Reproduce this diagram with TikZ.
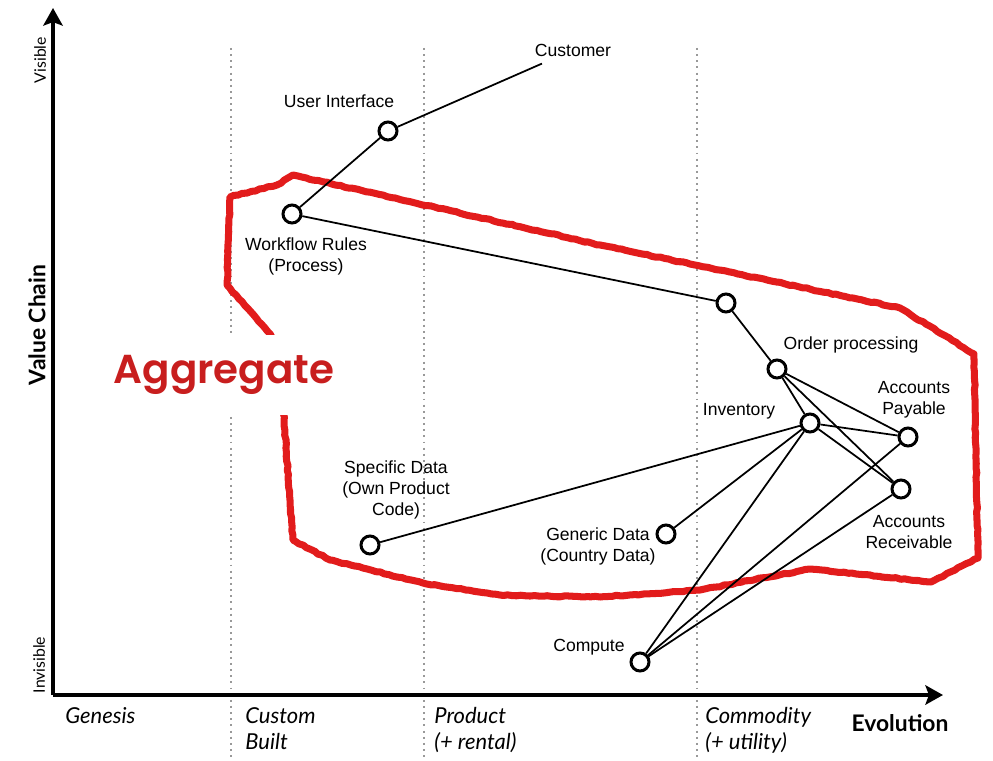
\documentclass[tikz,border=0pt]{standalone}
\usepackage{fontspec}
\setmainfont{Liberation Sans}
\newfontfamily\phasefont{Lato}
\newfontfamily\aggfont{Poppins SemiBold}
\usepackage{xcolor}
\usepackage{tikz}
\usetikzlibrary{arrows.meta,positioning,decorations.pathmorphing}

\definecolor{crayon}{RGB}{226,28,28}
\definecolor{aggred}{RGB}{200,30,30}

\begin{document}
\begin{tikzpicture}[
x=0.02cm, y=-0.02cm,
comp/.style={circle, draw, line width=1.7pt, fill=white, minimum size=0.36cm, inner sep=0pt},
lbl/.style={font=\fontsize{10}{12}\selectfont, align=center, inner sep=1pt},
link/.style={line width=1pt},
axis/.style={line width=2.8pt, -{Stealth[length=10pt, width=11pt, inset=2pt]}},
stage/.style={gray!80, line width=1.1pt, dash pattern=on 1.1pt off 2.4pt},
phase/.style={font=\phasefont\itshape\fontsize{12.5}{14.8}\selectfont, align=left, anchor=north west, inner sep=0pt},
boundary/.style={crayon, line width=4pt, line join=round,
  decorate, decoration={random steps, segment length=2.5pt, amplitude=0.35pt}}
]
\useasboundingbox (0,0) rectangle (993,760);

% Evolution stages
\foreach \x in {231,424,697}
  \draw[stage] (\x,48) -- (\x,760);

% Axes
\coordinate (origin) at (53,695);
\coordinate (vtop) at (53,8);
\coordinate (hend) at (943,695);
\draw[axis] (origin) -- (vtop);
\draw[axis] (origin) -- (hend);

\node[font=\phasefont\fontsize{9}{9}\selectfont, rotate=90] (visible) at (40,60) {Visible};
\node[font=\phasefont\fontsize{9}{9}\selectfont, rotate=90] (invisible) at (39,665) {Invisible};
\node[font=\phasefont\bfseries\fontsize{13}{13}\selectfont, rotate=90] (vchain) at (37,325) {Value Chain};
\node[font=\phasefont\bfseries\fontsize{13}{13}\selectfont] (evol) at (900,723) {Evolution};

\node[phase] (genesis) at (65,707) {Genesis};
\node[phase] (custom) at (245,707) {Custom\\Built};
\node[phase] (product) at (434,707) {Product\\(+ rental)};
\node[phase] (commodity) at (705,707) {Commodity\\(+ utility)};

% Aggregate boundary
\draw[boundary] (230,197) -- (277,185) -- (293,175) -- (600,245) -- (900,308)
  -- (974,354) -- (978,558) -- (931,582) -- (810,569) -- (700,590) -- (600,597)
  -- (500,595) -- (423,583) -- (330,560) -- (293,540) -- (283,405) -- (278,345)
  -- (265,328) -- (227,285) -- cycle;
\node[fill=white, text=aggred, font=\aggfont\fontsize{23}{23}\selectfont,
  minimum width=4.5cm, minimum height=1.6cm] (aggregate) at (224,375) {Aggregate};

% Components
\node[lbl, inner sep=4pt] (customer) at (573,50) {Customer};
\node[comp] (ui) at (388,131) {};
\node[comp] (workflow) at (292,214) {};
\node[comp] (hub) at (726,303) {};
\node[comp] (order) at (777,369) {};
\node[comp] (inventory) at (810,423) {};
\node[comp] (payable) at (908,437) {};
\node[comp] (receivable) at (901,489) {};
\node[comp] (specific) at (370,545) {};
\node[comp] (generic) at (666,534) {};
\node[comp] (compute) at (640,662) {};

% Labels
\node[lbl] at (339,101) {User Interface};
\node[lbl] at (306,256) {Workflow Rules\\(Process)};
\node[lbl] at (851,345) {Order processing};
\node[lbl] at (739,411) {Inventory};
\node[lbl] at (914,400) {Accounts\\Payable};
\node[lbl] at (909,532) {Accounts\\Receivable};
\node[lbl] at (396,490) {Specific Data\\(Own Product\\Code)};
\node[lbl] at (598,546) {Generic Data\\(Country Data)};
\node[lbl] at (589,647) {Compute};

% Links
\draw[link] (ui) -- (customer);
\draw[link] (workflow) -- (ui);
\draw[link] (workflow) -- (hub);
\draw[link] (hub) -- (order);
\draw[link] (order) -- (inventory);
\draw[link] (order) -- (payable);
\draw[link] (order) -- (receivable);
\draw[link] (inventory) -- (payable);
\draw[link] (inventory) -- (receivable);
\draw[link] (inventory) -- (specific);
\draw[link] (inventory) -- (generic);
\draw[link] (inventory) -- (compute);
\draw[link] (payable) -- (compute);
\draw[link] (receivable) -- (compute);

\end{tikzpicture}
\end{document}
